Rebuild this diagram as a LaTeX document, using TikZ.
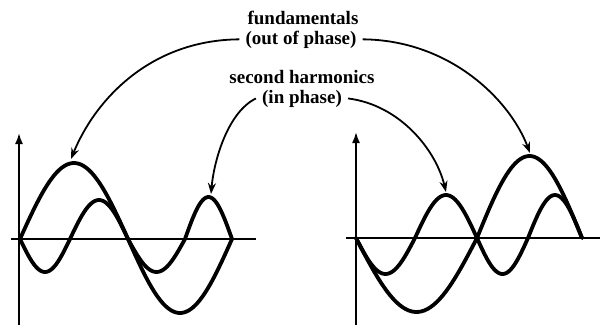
\documentclass[tikz,border=0pt]{standalone}
\usepackage{fontspec}
\setmainfont{Liberation Serif}
\usetikzlibrary{arrows.meta}
\begin{document}
\begin{tikzpicture}[x=1pt,y=-1pt,
  lbl/.style={font=\fontsize{19}{22}\selectfont\bfseries, anchor=base, inner ysep=2pt, inner xsep=6pt},
  axis/.style={line width=1.8pt, -{Latex[length=11pt,width=8pt]}},
  wave/.style={line width=3.8pt, line join=round, line cap=round},
  conn/.style={line width=1.8pt, -{Stealth[length=11pt,width=8pt]}}]
\useasboundingbox (0,0) rectangle (600,325);
% axes
\draw[axis] (19,325) -- (19,133);
\draw[line width=1.8pt] (11,239) -- (256,239);
\draw[axis] (356,325) -- (356,132);
\draw[line width=1.8pt] (346,238) -- (600,238);
% left fundamental
\draw[wave] plot[domain=0:1,samples=40] ({20+108*\x},{239-76*sin(180*\x)})
  -- plot[domain=0:1,samples=40] ({128+104*\x},{239+74*sin(180*\x)});
% left second harmonic
\draw[wave] plot[domain=0:1,samples=30] ({20+50*\x},{239+33*sin(180*\x)})
  -- plot[domain=0:1,samples=30] ({70+58*\x},{239-39*sin(180*\x)})
  -- plot[domain=0:1,samples=30] ({128+57*\x},{239+33*sin(180*\x)})
  -- plot[domain=0:1,samples=30] ({185+47*\x},{239-42*sin(180*\x)});
% right fundamental
\draw[wave] plot[domain=0:1,samples=40] ({356+121*\x},{238+74*sin(180*\x)})
  -- plot[domain=0:1,samples=40] ({477+105*\x},{238-82*sin(180*\x)});
% right second harmonic
\draw[wave] plot[domain=0:1,samples=30] ({356+59*\x},{238+36*sin(180*\x)})
  -- plot[domain=0:1,samples=30] ({415+62*\x},{238-43*sin(180*\x)})
  -- plot[domain=0:1,samples=30] ({477+51*\x},{238+36*sin(180*\x)})
  -- plot[domain=0:1,samples=30] ({528+54*\x},{238-43*sin(180*\x)});
% labels
\node[lbl] (fund1) at (303,24) {fundamentals};
\node[lbl] (fund2) at (301,44) {(out of phase)};
\node[lbl] (harm1) at (302,83) {second harmonics};
\node[lbl] (harm2) at (302,103) {(in phase)};
% arrow targets
\coordinate (t1) at (71,159);
\coordinate (t2) at (530,153);
\coordinate (t3) at (211,194);
\coordinate (t4) at (446,192);
% connectors
\draw[conn] (fund2.west) .. controls (150,40) and (95,100) .. (t1);
\draw[conn] (fund2.east) .. controls (450,40) and (510,100) .. (t2);
\draw[conn] (harm2.west) .. controls (228,112) and (214,160) .. (t3);
\draw[conn] (harm2.east) .. controls (400,105) and (436,150) .. (t4);
\end{tikzpicture}
\end{document}
